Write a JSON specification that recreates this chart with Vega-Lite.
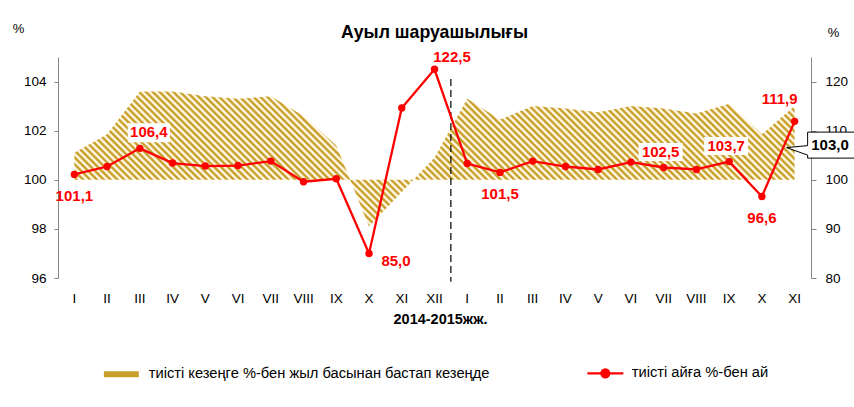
{
"$schema":"https://vega.github.io/schema/vega-lite/v6.json",
"width":753,"height":221,
"autosize":{"type":"none"},
"padding":{"left":58,"top":57,"right":43,"bottom":129},
"background":"#ffffff",
"config":{"font":"Liberation Sans","view":{"stroke":null}},
"title":{"text":"Ауыл шаруашылығы","fontSize":17.7,"fontWeight":"bold","color":"#000000","anchor":"middle","offset":-34,"baseline":"alphabetic"},
"datasets":{
"cum":[
{"m":"2014-I","s":"тиісті кезеңге %-бен жыл басынан бастап кезеңде","v":101.1},
{"m":"2014-II","s":"тиісті кезеңге %-бен жыл басынан бастап кезеңде","v":101.85},
{"m":"2014-III","s":"тиісті кезеңге %-бен жыл басынан бастап кезеңде","v":103.6},
{"m":"2014-IV","s":"тиісті кезеңге %-бен жыл басынан бастап кезеңде","v":103.6},
{"m":"2014-V","s":"тиісті кезеңге %-бен жыл басынан бастап кезеңде","v":103.4},
{"m":"2014-VI","s":"тиісті кезеңге %-бен жыл басынан бастап кезеңде","v":103.3},
{"m":"2014-VII","s":"тиісті кезеңге %-бен жыл басынан бастап кезеңде","v":103.4},
{"m":"2014-VIII","s":"тиісті кезеңге %-бен жыл басынан бастап кезеңде","v":102.6},
{"m":"2014-IX","s":"тиісті кезеңге %-бен жыл басынан бастап кезеңде","v":101.4},
{"m":"2014-X","s":"тиісті кезеңге %-бен жыл басынан бастап кезеңде","v":98.1},
{"m":"2014-XI","s":"тиісті кезеңге %-бен жыл басынан бастап кезеңде","v":99.5},
{"m":"2014-XII","s":"тиісті кезеңге %-бен жыл басынан бастап кезеңде","v":100.9},
{"m":"2015-I","s":"тиісті кезеңге %-бен жыл басынан бастап кезеңде","v":103.3},
{"m":"2015-II","s":"тиісті кезеңге %-бен жыл басынан бастап кезеңде","v":102.45},
{"m":"2015-III","s":"тиісті кезеңге %-бен жыл басынан бастап кезеңде","v":103.0},
{"m":"2015-IV","s":"тиісті кезеңге %-бен жыл басынан бастап кезеңде","v":102.9},
{"m":"2015-V","s":"тиісті кезеңге %-бен жыл басынан бастап кезеңде","v":102.75},
{"m":"2015-VI","s":"тиісті кезеңге %-бен жыл басынан бастап кезеңде","v":103.0},
{"m":"2015-VII","s":"тиісті кезеңге %-бен жыл басынан бастап кезеңде","v":102.9},
{"m":"2015-VIII","s":"тиісті кезеңге %-бен жыл басынан бастап кезеңде","v":102.7},
{"m":"2015-IX","s":"тиісті кезеңге %-бен жыл басынан бастап кезеңде","v":103.1},
{"m":"2015-X","s":"тиісті кезеңге %-бен жыл басынан бастап кезеңде","v":101.85},
{"m":"2015-XI","s":"тиісті кезеңге %-бен жыл басынан бастап кезеңде","v":103.0}
],
"mon":[
{"m":"2014-I","s":"тиісті айға %-бен ай","v":101.1},
{"m":"2014-II","s":"тиісті айға %-бен ай","v":102.7},
{"m":"2014-III","s":"тиісті айға %-бен ай","v":106.4},
{"m":"2014-IV","s":"тиісті айға %-бен ай","v":103.4},
{"m":"2014-V","s":"тиісті айға %-бен ай","v":102.8},
{"m":"2014-VI","s":"тиісті айға %-бен ай","v":102.9},
{"m":"2014-VII","s":"тиісті айға %-бен ай","v":103.8},
{"m":"2014-VIII","s":"тиісті айға %-бен ай","v":99.6},
{"m":"2014-IX","s":"тиісті айға %-бен ай","v":100.2},
{"m":"2014-X","s":"тиісті айға %-бен ай","v":85.0},
{"m":"2014-XI","s":"тиісті айға %-бен ай","v":114.6},
{"m":"2014-XII","s":"тиісті айға %-бен ай","v":122.5},
{"m":"2015-I","s":"тиісті айға %-бен ай","v":103.3},
{"m":"2015-II","s":"тиісті айға %-бен ай","v":101.5},
{"m":"2015-III","s":"тиісті айға %-бен ай","v":103.8},
{"m":"2015-IV","s":"тиісті айға %-бен ай","v":102.7},
{"m":"2015-V","s":"тиісті айға %-бен ай","v":102.1},
{"m":"2015-VI","s":"тиісті айға %-бен ай","v":103.6},
{"m":"2015-VII","s":"тиісті айға %-бен ай","v":102.5},
{"m":"2015-VIII","s":"тиісті айға %-бен ай","v":102.1},
{"m":"2015-IX","s":"тиісті айға %-бен ай","v":103.7},
{"m":"2015-X","s":"тиісті айға %-бен ай","v":96.6},
{"m":"2015-XI","s":"тиісті айға %-бен ай","v":111.9}
],
"labs":[
{"m":"2014-I","v":101.1,"t":"101,1","p":"below"},
{"m":"2014-III","v":106.4,"t":"106,4","p":"aboveR"},
{"m":"2014-X","v":85.0,"t":"85,0","p":"right"},
{"m":"2014-XII","v":122.5,"t":"122,5","p":"rightAbove"},
{"m":"2015-II","v":101.5,"t":"101,5","p":"below"},
{"m":"2015-VII","v":102.5,"t":"102,5","p":"above"},
{"m":"2015-IX","v":103.7,"t":"103,7","p":"above"},
{"m":"2015-X","v":96.6,"t":"96,6","p":"below"},
{"m":"2015-XI","v":111.9,"t":"111,9","p":"leftAbove"}
],
"sep":[{"m":"2014-XII"}],
"callout":[{"m":"2015-XI","v":103.0,"t":"103,0"}]
},
"resolve":{"scale":{"y":"independent"}},
"layer":[
{"layer":[
{"data":{"name":"cum"},
"mark":{"type":"area","opacity":1,"interpolate":"linear"},
"encoding":{
"x":{"field":"m","type":"nominal","scale":{"type":"band","paddingInner":0,"paddingOuter":0,"domain":["2014-I","2014-II","2014-III","2014-IV","2014-V","2014-VI","2014-VII","2014-VIII","2014-IX","2014-X","2014-XI","2014-XII","2015-I","2015-II","2015-III","2015-IV","2015-V","2015-VI","2015-VII","2015-VIII","2015-IX","2015-X","2015-XI"]},
"axis":{"labelExpr":"split(datum.label,'-')[1]","domain":false,"ticks":false,"grid":false,"labelAngle":0,"labelFontSize":13.5,"labelColor":"#000000","labelPadding":13,"title":"2014-2015жж.","titleFontSize":14.5,"titleFontWeight":"bold","titleColor":"#000000","titlePadding":8,"titleX":382,"titleAlign":"center"}},
"y":{"field":"v","type":"quantitative","scale":{"domain":[96,105],"nice":false,"zero":false},
"axis":{"values":[96,98,100,102,104],"grid":false,"domainColor":"#868686","tickColor":"#868686","tickSize":4,"labelFontSize":13.5,"labelColor":"#000000","labelPadding":8,"title":"%","titleAngle":0,"titleX":-40,"titleY":-29,"titleFontSize":13,"titleFontWeight":"normal","titleColor":"#000000","titleAlign":"center","titleBaseline":"middle"}},
"y2":{"datum":100},
"fill":{"condition":{"test":"false","field":"s","type":"nominal","scale":{"range":["#c9a02e"]},
"legend":{"orient":"none","legendX":56,"legendY":310,"title":null,"symbolType":"M-17.5,-3H17.5V3H-17.5Z","symbolSize":4,"labelFontSize":14.7,"labelColor":"#000000","labelOffset":20,"labelLimit":0,"padding":0,
"encode":{"symbols":{"update":{"fill":{"value":{"gradient":"linear","x1":0,"y1":1,"x2":1.138,"y2":0.805,"stops":[{"offset":0,"color":"#c9a02e"},{"offset":0.0417,"color":"#c9a02e"},{"offset":0.0833,"color":"#fff7e1"},{"offset":0.125,"color":"#fff7e1"},{"offset":0.1667,"color":"#c9a02e"},{"offset":0.2083,"color":"#c9a02e"},{"offset":0.25,"color":"#fff7e1"},{"offset":0.2917,"color":"#fff7e1"},{"offset":0.3333,"color":"#c9a02e"},{"offset":0.375,"color":"#c9a02e"},{"offset":0.4167,"color":"#fff7e1"},{"offset":0.4583,"color":"#fff7e1"},{"offset":0.5,"color":"#c9a02e"},{"offset":0.5417,"color":"#c9a02e"},{"offset":0.5833,"color":"#fff7e1"},{"offset":0.625,"color":"#fff7e1"},{"offset":0.6667,"color":"#c9a02e"},{"offset":0.7083,"color":"#c9a02e"},{"offset":0.75,"color":"#fff7e1"},{"offset":0.7917,"color":"#fff7e1"},{"offset":0.8333,"color":"#c9a02e"},{"offset":0.875,"color":"#c9a02e"},{"offset":0.9167,"color":"#fff7e1"},{"offset":0.9583,"color":"#fff7e1"},{"offset":1,"color":"#c9a02e"}]}},"stroke":{"value":"transparent"},"opacity":{"value":1}}}}}},
"value":{"gradient":"linear","x1":0,"y1":1,"x2":1.1472,"y2":0.7849,"stops":[
{"offset":0,"color":"#c9a02e"},{"offset":0.002,"color":"#c9a02e"},{"offset":0.004,"color":"#fff7e1"},{"offset":0.006,"color":"#fff7e1"},{"offset":0.008,"color":"#c9a02e"},{"offset":0.01,"color":"#c9a02e"},{"offset":0.012,"color":"#fff7e1"},{"offset":0.014,"color":"#fff7e1"},{"offset":0.016,"color":"#c9a02e"},{"offset":0.018,"color":"#c9a02e"},{"offset":0.02,"color":"#fff7e1"},{"offset":0.022,"color":"#fff7e1"},{"offset":0.024,"color":"#c9a02e"},{"offset":0.026,"color":"#c9a02e"},{"offset":0.028,"color":"#fff7e1"},{"offset":0.03,"color":"#fff7e1"},{"offset":0.032,"color":"#c9a02e"},{"offset":0.034,"color":"#c9a02e"},{"offset":0.036,"color":"#fff7e1"},{"offset":0.038,"color":"#fff7e1"},{"offset":0.04,"color":"#c9a02e"},{"offset":0.042,"color":"#c9a02e"},{"offset":0.044,"color":"#fff7e1"},{"offset":0.046,"color":"#fff7e1"},{"offset":0.048,"color":"#c9a02e"},{"offset":0.05,"color":"#c9a02e"},{"offset":0.052,"color":"#fff7e1"},{"offset":0.054,"color":"#fff7e1"},{"offset":0.056,"color":"#c9a02e"},{"offset":0.058,"color":"#c9a02e"},{"offset":0.06,"color":"#fff7e1"},{"offset":0.062,"color":"#fff7e1"},{"offset":0.064,"color":"#c9a02e"},{"offset":0.066,"color":"#c9a02e"},{"offset":0.068,"color":"#fff7e1"},{"offset":0.07,"color":"#fff7e1"},{"offset":0.072,"color":"#c9a02e"},{"offset":0.074,"color":"#c9a02e"},{"offset":0.076,"color":"#fff7e1"},{"offset":0.078,"color":"#fff7e1"},{"offset":0.08,"color":"#c9a02e"},{"offset":0.082,"color":"#c9a02e"},{"offset":0.084,"color":"#fff7e1"},{"offset":0.086,"color":"#fff7e1"},{"offset":0.088,"color":"#c9a02e"},{"offset":0.09,"color":"#c9a02e"},{"offset":0.092,"color":"#fff7e1"},{"offset":0.094,"color":"#fff7e1"},{"offset":0.096,"color":"#c9a02e"},{"offset":0.098,"color":"#c9a02e"},
{"offset":0.1,"color":"#fff7e1"},{"offset":0.102,"color":"#fff7e1"},{"offset":0.104,"color":"#c9a02e"},{"offset":0.106,"color":"#c9a02e"},{"offset":0.108,"color":"#fff7e1"},{"offset":0.11,"color":"#fff7e1"},{"offset":0.112,"color":"#c9a02e"},{"offset":0.114,"color":"#c9a02e"},{"offset":0.116,"color":"#fff7e1"},{"offset":0.118,"color":"#fff7e1"},{"offset":0.12,"color":"#c9a02e"},{"offset":0.122,"color":"#c9a02e"},{"offset":0.124,"color":"#fff7e1"},{"offset":0.126,"color":"#fff7e1"},{"offset":0.128,"color":"#c9a02e"},{"offset":0.13,"color":"#c9a02e"},{"offset":0.132,"color":"#fff7e1"},{"offset":0.134,"color":"#fff7e1"},{"offset":0.136,"color":"#c9a02e"},{"offset":0.138,"color":"#c9a02e"},{"offset":0.14,"color":"#fff7e1"},{"offset":0.142,"color":"#fff7e1"},{"offset":0.144,"color":"#c9a02e"},{"offset":0.146,"color":"#c9a02e"},{"offset":0.148,"color":"#fff7e1"},{"offset":0.15,"color":"#fff7e1"},{"offset":0.152,"color":"#c9a02e"},{"offset":0.154,"color":"#c9a02e"},{"offset":0.156,"color":"#fff7e1"},{"offset":0.158,"color":"#fff7e1"},{"offset":0.16,"color":"#c9a02e"},{"offset":0.162,"color":"#c9a02e"},{"offset":0.164,"color":"#fff7e1"},{"offset":0.166,"color":"#fff7e1"},{"offset":0.168,"color":"#c9a02e"},{"offset":0.17,"color":"#c9a02e"},{"offset":0.172,"color":"#fff7e1"},{"offset":0.174,"color":"#fff7e1"},{"offset":0.176,"color":"#c9a02e"},{"offset":0.178,"color":"#c9a02e"},{"offset":0.18,"color":"#fff7e1"},{"offset":0.182,"color":"#fff7e1"},{"offset":0.184,"color":"#c9a02e"},{"offset":0.186,"color":"#c9a02e"},{"offset":0.188,"color":"#fff7e1"},{"offset":0.19,"color":"#fff7e1"},{"offset":0.192,"color":"#c9a02e"},{"offset":0.194,"color":"#c9a02e"},{"offset":0.196,"color":"#fff7e1"},{"offset":0.198,"color":"#fff7e1"},
{"offset":0.2,"color":"#c9a02e"},{"offset":0.202,"color":"#c9a02e"},{"offset":0.204,"color":"#fff7e1"},{"offset":0.206,"color":"#fff7e1"},{"offset":0.208,"color":"#c9a02e"},{"offset":0.21,"color":"#c9a02e"},{"offset":0.212,"color":"#fff7e1"},{"offset":0.214,"color":"#fff7e1"},{"offset":0.216,"color":"#c9a02e"},{"offset":0.218,"color":"#c9a02e"},{"offset":0.22,"color":"#fff7e1"},{"offset":0.222,"color":"#fff7e1"},{"offset":0.224,"color":"#c9a02e"},{"offset":0.226,"color":"#c9a02e"},{"offset":0.228,"color":"#fff7e1"},{"offset":0.23,"color":"#fff7e1"},{"offset":0.232,"color":"#c9a02e"},{"offset":0.234,"color":"#c9a02e"},{"offset":0.236,"color":"#fff7e1"},{"offset":0.238,"color":"#fff7e1"},{"offset":0.24,"color":"#c9a02e"},{"offset":0.242,"color":"#c9a02e"},{"offset":0.244,"color":"#fff7e1"},{"offset":0.246,"color":"#fff7e1"},{"offset":0.248,"color":"#c9a02e"},{"offset":0.25,"color":"#c9a02e"},{"offset":0.252,"color":"#fff7e1"},{"offset":0.254,"color":"#fff7e1"},{"offset":0.256,"color":"#c9a02e"},{"offset":0.258,"color":"#c9a02e"},{"offset":0.26,"color":"#fff7e1"},{"offset":0.262,"color":"#fff7e1"},{"offset":0.264,"color":"#c9a02e"},{"offset":0.266,"color":"#c9a02e"},{"offset":0.268,"color":"#fff7e1"},{"offset":0.27,"color":"#fff7e1"},{"offset":0.272,"color":"#c9a02e"},{"offset":0.274,"color":"#c9a02e"},{"offset":0.276,"color":"#fff7e1"},{"offset":0.278,"color":"#fff7e1"},{"offset":0.28,"color":"#c9a02e"},{"offset":0.282,"color":"#c9a02e"},{"offset":0.284,"color":"#fff7e1"},{"offset":0.286,"color":"#fff7e1"},{"offset":0.288,"color":"#c9a02e"},{"offset":0.29,"color":"#c9a02e"},{"offset":0.292,"color":"#fff7e1"},{"offset":0.294,"color":"#fff7e1"},{"offset":0.296,"color":"#c9a02e"},{"offset":0.298,"color":"#c9a02e"},
{"offset":0.3,"color":"#fff7e1"},{"offset":0.302,"color":"#fff7e1"},{"offset":0.304,"color":"#c9a02e"},{"offset":0.306,"color":"#c9a02e"},{"offset":0.308,"color":"#fff7e1"},{"offset":0.31,"color":"#fff7e1"},{"offset":0.312,"color":"#c9a02e"},{"offset":0.314,"color":"#c9a02e"},{"offset":0.316,"color":"#fff7e1"},{"offset":0.318,"color":"#fff7e1"},{"offset":0.32,"color":"#c9a02e"},{"offset":0.322,"color":"#c9a02e"},{"offset":0.324,"color":"#fff7e1"},{"offset":0.326,"color":"#fff7e1"},{"offset":0.328,"color":"#c9a02e"},{"offset":0.33,"color":"#c9a02e"},{"offset":0.332,"color":"#fff7e1"},{"offset":0.334,"color":"#fff7e1"},{"offset":0.336,"color":"#c9a02e"},{"offset":0.338,"color":"#c9a02e"},{"offset":0.34,"color":"#fff7e1"},{"offset":0.342,"color":"#fff7e1"},{"offset":0.344,"color":"#c9a02e"},{"offset":0.346,"color":"#c9a02e"},{"offset":0.348,"color":"#fff7e1"},{"offset":0.35,"color":"#fff7e1"},{"offset":0.352,"color":"#c9a02e"},{"offset":0.354,"color":"#c9a02e"},{"offset":0.356,"color":"#fff7e1"},{"offset":0.358,"color":"#fff7e1"},{"offset":0.36,"color":"#c9a02e"},{"offset":0.362,"color":"#c9a02e"},{"offset":0.364,"color":"#fff7e1"},{"offset":0.366,"color":"#fff7e1"},{"offset":0.368,"color":"#c9a02e"},{"offset":0.37,"color":"#c9a02e"},{"offset":0.372,"color":"#fff7e1"},{"offset":0.374,"color":"#fff7e1"},{"offset":0.376,"color":"#c9a02e"},{"offset":0.378,"color":"#c9a02e"},{"offset":0.38,"color":"#fff7e1"},{"offset":0.382,"color":"#fff7e1"},{"offset":0.384,"color":"#c9a02e"},{"offset":0.386,"color":"#c9a02e"},{"offset":0.388,"color":"#fff7e1"},{"offset":0.39,"color":"#fff7e1"},{"offset":0.392,"color":"#c9a02e"},{"offset":0.394,"color":"#c9a02e"},{"offset":0.396,"color":"#fff7e1"},{"offset":0.398,"color":"#fff7e1"},
{"offset":0.4,"color":"#c9a02e"},{"offset":0.402,"color":"#c9a02e"},{"offset":0.404,"color":"#fff7e1"},{"offset":0.406,"color":"#fff7e1"},{"offset":0.408,"color":"#c9a02e"},{"offset":0.41,"color":"#c9a02e"},{"offset":0.412,"color":"#fff7e1"},{"offset":0.414,"color":"#fff7e1"},{"offset":0.416,"color":"#c9a02e"},{"offset":0.418,"color":"#c9a02e"},{"offset":0.42,"color":"#fff7e1"},{"offset":0.422,"color":"#fff7e1"},{"offset":0.424,"color":"#c9a02e"},{"offset":0.426,"color":"#c9a02e"},{"offset":0.428,"color":"#fff7e1"},{"offset":0.43,"color":"#fff7e1"},{"offset":0.432,"color":"#c9a02e"},{"offset":0.434,"color":"#c9a02e"},{"offset":0.436,"color":"#fff7e1"},{"offset":0.438,"color":"#fff7e1"},{"offset":0.44,"color":"#c9a02e"},{"offset":0.442,"color":"#c9a02e"},{"offset":0.444,"color":"#fff7e1"},{"offset":0.446,"color":"#fff7e1"},{"offset":0.448,"color":"#c9a02e"},{"offset":0.45,"color":"#c9a02e"},{"offset":0.452,"color":"#fff7e1"},{"offset":0.454,"color":"#fff7e1"},{"offset":0.456,"color":"#c9a02e"},{"offset":0.458,"color":"#c9a02e"},{"offset":0.46,"color":"#fff7e1"},{"offset":0.462,"color":"#fff7e1"},{"offset":0.464,"color":"#c9a02e"},{"offset":0.466,"color":"#c9a02e"},{"offset":0.468,"color":"#fff7e1"},{"offset":0.47,"color":"#fff7e1"},{"offset":0.472,"color":"#c9a02e"},{"offset":0.474,"color":"#c9a02e"},{"offset":0.476,"color":"#fff7e1"},{"offset":0.478,"color":"#fff7e1"},{"offset":0.48,"color":"#c9a02e"},{"offset":0.482,"color":"#c9a02e"},{"offset":0.484,"color":"#fff7e1"},{"offset":0.486,"color":"#fff7e1"},{"offset":0.488,"color":"#c9a02e"},{"offset":0.49,"color":"#c9a02e"},{"offset":0.492,"color":"#fff7e1"},{"offset":0.494,"color":"#fff7e1"},{"offset":0.496,"color":"#c9a02e"},{"offset":0.498,"color":"#c9a02e"},
{"offset":0.5,"color":"#fff7e1"},{"offset":0.502,"color":"#fff7e1"},{"offset":0.504,"color":"#c9a02e"},{"offset":0.506,"color":"#c9a02e"},{"offset":0.508,"color":"#fff7e1"},{"offset":0.51,"color":"#fff7e1"},{"offset":0.512,"color":"#c9a02e"},{"offset":0.514,"color":"#c9a02e"},{"offset":0.516,"color":"#fff7e1"},{"offset":0.518,"color":"#fff7e1"},{"offset":0.52,"color":"#c9a02e"},{"offset":0.522,"color":"#c9a02e"},{"offset":0.524,"color":"#fff7e1"},{"offset":0.526,"color":"#fff7e1"},{"offset":0.528,"color":"#c9a02e"},{"offset":0.53,"color":"#c9a02e"},{"offset":0.532,"color":"#fff7e1"},{"offset":0.534,"color":"#fff7e1"},{"offset":0.536,"color":"#c9a02e"},{"offset":0.538,"color":"#c9a02e"},{"offset":0.54,"color":"#fff7e1"},{"offset":0.542,"color":"#fff7e1"},{"offset":0.544,"color":"#c9a02e"},{"offset":0.546,"color":"#c9a02e"},{"offset":0.548,"color":"#fff7e1"},{"offset":0.55,"color":"#fff7e1"},{"offset":0.552,"color":"#c9a02e"},{"offset":0.554,"color":"#c9a02e"},{"offset":0.556,"color":"#fff7e1"},{"offset":0.558,"color":"#fff7e1"},{"offset":0.56,"color":"#c9a02e"},{"offset":0.562,"color":"#c9a02e"},{"offset":0.564,"color":"#fff7e1"},{"offset":0.566,"color":"#fff7e1"},{"offset":0.568,"color":"#c9a02e"},{"offset":0.57,"color":"#c9a02e"},{"offset":0.572,"color":"#fff7e1"},{"offset":0.574,"color":"#fff7e1"},{"offset":0.576,"color":"#c9a02e"},{"offset":0.578,"color":"#c9a02e"},{"offset":0.58,"color":"#fff7e1"},{"offset":0.582,"color":"#fff7e1"},{"offset":0.584,"color":"#c9a02e"},{"offset":0.586,"color":"#c9a02e"},{"offset":0.588,"color":"#fff7e1"},{"offset":0.59,"color":"#fff7e1"},{"offset":0.592,"color":"#c9a02e"},{"offset":0.594,"color":"#c9a02e"},{"offset":0.596,"color":"#fff7e1"},{"offset":0.598,"color":"#fff7e1"},
{"offset":0.6,"color":"#c9a02e"},{"offset":0.602,"color":"#c9a02e"},{"offset":0.604,"color":"#fff7e1"},{"offset":0.606,"color":"#fff7e1"},{"offset":0.608,"color":"#c9a02e"},{"offset":0.61,"color":"#c9a02e"},{"offset":0.612,"color":"#fff7e1"},{"offset":0.614,"color":"#fff7e1"},{"offset":0.616,"color":"#c9a02e"},{"offset":0.618,"color":"#c9a02e"},{"offset":0.62,"color":"#fff7e1"},{"offset":0.622,"color":"#fff7e1"},{"offset":0.624,"color":"#c9a02e"},{"offset":0.626,"color":"#c9a02e"},{"offset":0.628,"color":"#fff7e1"},{"offset":0.63,"color":"#fff7e1"},{"offset":0.632,"color":"#c9a02e"},{"offset":0.634,"color":"#c9a02e"},{"offset":0.636,"color":"#fff7e1"},{"offset":0.638,"color":"#fff7e1"},{"offset":0.64,"color":"#c9a02e"},{"offset":0.642,"color":"#c9a02e"},{"offset":0.644,"color":"#fff7e1"},{"offset":0.646,"color":"#fff7e1"},{"offset":0.648,"color":"#c9a02e"},{"offset":0.65,"color":"#c9a02e"},{"offset":0.652,"color":"#fff7e1"},{"offset":0.654,"color":"#fff7e1"},{"offset":0.656,"color":"#c9a02e"},{"offset":0.658,"color":"#c9a02e"},{"offset":0.66,"color":"#fff7e1"},{"offset":0.662,"color":"#fff7e1"},{"offset":0.664,"color":"#c9a02e"},{"offset":0.666,"color":"#c9a02e"},{"offset":0.668,"color":"#fff7e1"},{"offset":0.67,"color":"#fff7e1"},{"offset":0.672,"color":"#c9a02e"},{"offset":0.674,"color":"#c9a02e"},{"offset":0.676,"color":"#fff7e1"},{"offset":0.678,"color":"#fff7e1"},{"offset":0.68,"color":"#c9a02e"},{"offset":0.682,"color":"#c9a02e"},{"offset":0.684,"color":"#fff7e1"},{"offset":0.686,"color":"#fff7e1"},{"offset":0.688,"color":"#c9a02e"},{"offset":0.69,"color":"#c9a02e"},{"offset":0.692,"color":"#fff7e1"},{"offset":0.694,"color":"#fff7e1"},{"offset":0.696,"color":"#c9a02e"},{"offset":0.698,"color":"#c9a02e"},
{"offset":0.7,"color":"#fff7e1"},{"offset":0.702,"color":"#fff7e1"},{"offset":0.704,"color":"#c9a02e"},{"offset":0.706,"color":"#c9a02e"},{"offset":0.708,"color":"#fff7e1"},{"offset":0.71,"color":"#fff7e1"},{"offset":0.712,"color":"#c9a02e"},{"offset":0.714,"color":"#c9a02e"},{"offset":0.716,"color":"#fff7e1"},{"offset":0.718,"color":"#fff7e1"},{"offset":0.72,"color":"#c9a02e"},{"offset":0.722,"color":"#c9a02e"},{"offset":0.724,"color":"#fff7e1"},{"offset":0.726,"color":"#fff7e1"},{"offset":0.728,"color":"#c9a02e"},{"offset":0.73,"color":"#c9a02e"},{"offset":0.732,"color":"#fff7e1"},{"offset":0.734,"color":"#fff7e1"},{"offset":0.736,"color":"#c9a02e"},{"offset":0.738,"color":"#c9a02e"},{"offset":0.74,"color":"#fff7e1"},{"offset":0.742,"color":"#fff7e1"},{"offset":0.744,"color":"#c9a02e"},{"offset":0.746,"color":"#c9a02e"},{"offset":0.748,"color":"#fff7e1"},{"offset":0.75,"color":"#fff7e1"},{"offset":0.752,"color":"#c9a02e"},{"offset":0.754,"color":"#c9a02e"},{"offset":0.756,"color":"#fff7e1"},{"offset":0.758,"color":"#fff7e1"},{"offset":0.76,"color":"#c9a02e"},{"offset":0.762,"color":"#c9a02e"},{"offset":0.764,"color":"#fff7e1"},{"offset":0.766,"color":"#fff7e1"},{"offset":0.768,"color":"#c9a02e"},{"offset":0.77,"color":"#c9a02e"},{"offset":0.772,"color":"#fff7e1"},{"offset":0.774,"color":"#fff7e1"},{"offset":0.776,"color":"#c9a02e"},{"offset":0.778,"color":"#c9a02e"},{"offset":0.78,"color":"#fff7e1"},{"offset":0.782,"color":"#fff7e1"},{"offset":0.784,"color":"#c9a02e"},{"offset":0.786,"color":"#c9a02e"},{"offset":0.788,"color":"#fff7e1"},{"offset":0.79,"color":"#fff7e1"},{"offset":0.792,"color":"#c9a02e"},{"offset":0.794,"color":"#c9a02e"},{"offset":0.796,"color":"#fff7e1"},{"offset":0.798,"color":"#fff7e1"},
{"offset":0.8,"color":"#c9a02e"},{"offset":0.802,"color":"#c9a02e"},{"offset":0.804,"color":"#fff7e1"},{"offset":0.806,"color":"#fff7e1"},{"offset":0.808,"color":"#c9a02e"},{"offset":0.81,"color":"#c9a02e"},{"offset":0.812,"color":"#fff7e1"},{"offset":0.814,"color":"#fff7e1"},{"offset":0.816,"color":"#c9a02e"},{"offset":0.818,"color":"#c9a02e"},{"offset":0.82,"color":"#fff7e1"},{"offset":0.822,"color":"#fff7e1"},{"offset":0.824,"color":"#c9a02e"},{"offset":0.826,"color":"#c9a02e"},{"offset":0.828,"color":"#fff7e1"},{"offset":0.83,"color":"#fff7e1"},{"offset":0.832,"color":"#c9a02e"},{"offset":0.834,"color":"#c9a02e"},{"offset":0.836,"color":"#fff7e1"},{"offset":0.838,"color":"#fff7e1"},{"offset":0.84,"color":"#c9a02e"},{"offset":0.842,"color":"#c9a02e"},{"offset":0.844,"color":"#fff7e1"},{"offset":0.846,"color":"#fff7e1"},{"offset":0.848,"color":"#c9a02e"},{"offset":0.85,"color":"#c9a02e"},{"offset":0.852,"color":"#fff7e1"},{"offset":0.854,"color":"#fff7e1"},{"offset":0.856,"color":"#c9a02e"},{"offset":0.858,"color":"#c9a02e"},{"offset":0.86,"color":"#fff7e1"},{"offset":0.862,"color":"#fff7e1"},{"offset":0.864,"color":"#c9a02e"},{"offset":0.866,"color":"#c9a02e"},{"offset":0.868,"color":"#fff7e1"},{"offset":0.87,"color":"#fff7e1"},{"offset":0.872,"color":"#c9a02e"},{"offset":0.874,"color":"#c9a02e"},{"offset":0.876,"color":"#fff7e1"},{"offset":0.878,"color":"#fff7e1"},{"offset":0.88,"color":"#c9a02e"},{"offset":0.882,"color":"#c9a02e"},{"offset":0.884,"color":"#fff7e1"},{"offset":0.886,"color":"#fff7e1"},{"offset":0.888,"color":"#c9a02e"},{"offset":0.89,"color":"#c9a02e"},{"offset":0.892,"color":"#fff7e1"},{"offset":0.894,"color":"#fff7e1"},{"offset":0.896,"color":"#c9a02e"},{"offset":0.898,"color":"#c9a02e"},
{"offset":0.9,"color":"#fff7e1"},{"offset":0.902,"color":"#fff7e1"},{"offset":0.904,"color":"#c9a02e"},{"offset":0.906,"color":"#c9a02e"},{"offset":0.908,"color":"#fff7e1"},{"offset":0.91,"color":"#fff7e1"},{"offset":0.912,"color":"#c9a02e"},{"offset":0.914,"color":"#c9a02e"},{"offset":0.916,"color":"#fff7e1"},{"offset":0.918,"color":"#fff7e1"},{"offset":0.92,"color":"#c9a02e"},{"offset":0.922,"color":"#c9a02e"},{"offset":0.924,"color":"#fff7e1"},{"offset":0.926,"color":"#fff7e1"},{"offset":0.928,"color":"#c9a02e"},{"offset":0.93,"color":"#c9a02e"},{"offset":0.932,"color":"#fff7e1"},{"offset":0.934,"color":"#fff7e1"},{"offset":0.936,"color":"#c9a02e"},{"offset":0.938,"color":"#c9a02e"},{"offset":0.94,"color":"#fff7e1"},{"offset":0.942,"color":"#fff7e1"},{"offset":0.944,"color":"#c9a02e"},{"offset":0.946,"color":"#c9a02e"},{"offset":0.948,"color":"#fff7e1"},{"offset":0.95,"color":"#fff7e1"},{"offset":0.952,"color":"#c9a02e"},{"offset":0.954,"color":"#c9a02e"},{"offset":0.956,"color":"#fff7e1"},{"offset":0.958,"color":"#fff7e1"},{"offset":0.96,"color":"#c9a02e"},{"offset":0.962,"color":"#c9a02e"},{"offset":0.964,"color":"#fff7e1"},{"offset":0.966,"color":"#fff7e1"},{"offset":0.968,"color":"#c9a02e"},{"offset":0.97,"color":"#c9a02e"},{"offset":0.972,"color":"#fff7e1"},{"offset":0.974,"color":"#fff7e1"},{"offset":0.976,"color":"#c9a02e"},{"offset":0.978,"color":"#c9a02e"},{"offset":0.98,"color":"#fff7e1"},{"offset":0.982,"color":"#fff7e1"},{"offset":0.984,"color":"#c9a02e"},{"offset":0.986,"color":"#c9a02e"},{"offset":0.988,"color":"#fff7e1"},{"offset":0.99,"color":"#fff7e1"},{"offset":0.992,"color":"#c9a02e"},{"offset":0.994,"color":"#c9a02e"},{"offset":0.996,"color":"#fff7e1"},{"offset":0.998,"color":"#fff7e1"},{"offset":1,"color":"#c9a02e"}
]}}
}},
{"mark":{"type":"rule","color":"#8c8c8c","strokeWidth":1.5},"encoding":{"y":{"datum":100}}},
{"data":{"name":"sep"},"mark":{"type":"rule","color":"#000000","strokeWidth":1.2,"strokeDash":[7,4]},
"encoding":{"x":{"field":"m","type":"nominal","bandPosition":1},"y":{"datum":104.1},"y2":{"datum":95.85}}},
{"data":{"name":"callout"},"mark":{"type":"point","shape":"M13,26H61V52H13V49L-8,41.5L13,39.5Z","size":4,"filled":true,"fill":"#ffffff","stroke":"#000000","strokeWidth":1,"opacity":1},
"encoding":{"x":{"field":"m","type":"nominal"},"y":{"field":"v","type":"quantitative"}}},
{"data":{"name":"callout"},"mark":{"type":"text","dx":35.4,"dy":39,"fontSize":15,"fontWeight":"bold","color":"#000000","align":"center","baseline":"middle"},
"encoding":{"x":{"field":"m","type":"nominal"},"y":{"field":"v","type":"quantitative"},"text":{"field":"t"}}}
]},
{"layer":[
{"data":{"name":"mon"},"mark":{"type":"line","strokeWidth":2.3,"interpolate":"linear"},
"encoding":{"x":{"field":"m","type":"nominal"},
"y":{"field":"v","type":"quantitative","scale":{"domain":[80,125],"nice":false,"zero":false},
"axis":{"orient":"right","values":[80,90,100,110,120],"grid":false,"domainColor":"#868686","tickColor":"#868686","tickSize":5,"labelFontSize":13.5,"labelColor":"#000000","labelPadding":9,"title":"%","titleAngle":0,"titleX":22,"titleY":-25,"titleFontSize":13,"titleFontWeight":"normal","titleColor":"#000000","titleAlign":"center","titleBaseline":"middle"}},
"color":{"field":"s","type":"nominal","scale":{"range":["#ff0000"]},
"legend":{"orient":"none","legendX":540,"legendY":309,"title":null,"symbolType":"M-18,0H18M4,0A4,4,0,1,1,-4,0A4,4,0,1,1,4,0Z","symbolSize":4,"symbolStrokeWidth":2.3,"labelFontSize":14.7,"labelColor":"#000000","labelOffset":19,"labelLimit":0,"padding":0,
"encode":{"symbols":{"update":{"fill":{"value":"#ff0000"},"stroke":{"value":"#ff0000"},"opacity":{"value":1}}}}}}}},
{"data":{"name":"mon"},"mark":{"type":"point","filled":true,"color":"#ff0000","size":55,"opacity":1},
"encoding":{"x":{"field":"m","type":"nominal"},"y":{"field":"v","type":"quantitative"}}},
{"data":{"name":"labs"},"transform":[{"filter":"datum.p == 'above'"}],
"mark":{"type":"point","shape":"M-25,-24.5H19V-6.5H-25Z","size":4,"filled":true,"fill":"#ffffff","strokeWidth":0,"opacity":1},
"encoding":{"x":{"field":"m","type":"nominal"},"y":{"field":"v","type":"quantitative"}}},
{"data":{"name":"labs"},"transform":[{"filter":"datum.p == 'aboveR'"}],
"mark":{"type":"point","shape":"M-12,-25H30V-6H-12Z","size":4,"filled":true,"fill":"#ffffff","strokeWidth":0,"opacity":1},
"encoding":{"x":{"field":"m","type":"nominal"},"y":{"field":"v","type":"quantitative"}}},
{"data":{"name":"labs"},"transform":[{"filter":"datum.p == 'below'"}],
"mark":{"type":"text","dy":22,"fontSize":15,"fontWeight":"bold","color":"#ff0000","align":"center","baseline":"middle"},
"encoding":{"x":{"field":"m","type":"nominal"},"y":{"field":"v","type":"quantitative"},"text":{"field":"t"}}},
{"data":{"name":"labs"},"transform":[{"filter":"datum.p == 'above'"}],
"mark":{"type":"text","dx":-3,"dy":-15.5,"fontSize":15,"fontWeight":"bold","color":"#ff0000","align":"center","baseline":"middle"},
"encoding":{"x":{"field":"m","type":"nominal"},"y":{"field":"v","type":"quantitative"},"text":{"field":"t"}}},
{"data":{"name":"labs"},"transform":[{"filter":"datum.p == 'aboveR'"}],
"mark":{"type":"text","dx":9,"dy":-16,"fontSize":15,"fontWeight":"bold","color":"#ff0000","align":"center","baseline":"middle"},
"encoding":{"x":{"field":"m","type":"nominal"},"y":{"field":"v","type":"quantitative"},"text":{"field":"t"}}},
{"data":{"name":"labs"},"transform":[{"filter":"datum.p == 'right'"}],
"mark":{"type":"text","dx":27,"dy":7.5,"fontSize":15,"fontWeight":"bold","color":"#ff0000","align":"center","baseline":"middle"},
"encoding":{"x":{"field":"m","type":"nominal"},"y":{"field":"v","type":"quantitative"},"text":{"field":"t"}}},
{"data":{"name":"labs"},"transform":[{"filter":"datum.p == 'rightAbove'"}],
"mark":{"type":"text","dx":17.5,"dy":-12,"fontSize":15,"fontWeight":"bold","color":"#ff0000","align":"center","baseline":"middle"},
"encoding":{"x":{"field":"m","type":"nominal"},"y":{"field":"v","type":"quantitative"},"text":{"field":"t"}}},
{"data":{"name":"labs"},"transform":[{"filter":"datum.p == 'leftAbove'"}],
"mark":{"type":"text","dx":-15,"dy":-22,"fontSize":15,"fontWeight":"bold","color":"#ff0000","align":"center","baseline":"middle"},
"encoding":{"x":{"field":"m","type":"nominal"},"y":{"field":"v","type":"quantitative"},"text":{"field":"t"}}}
]}
]
}
